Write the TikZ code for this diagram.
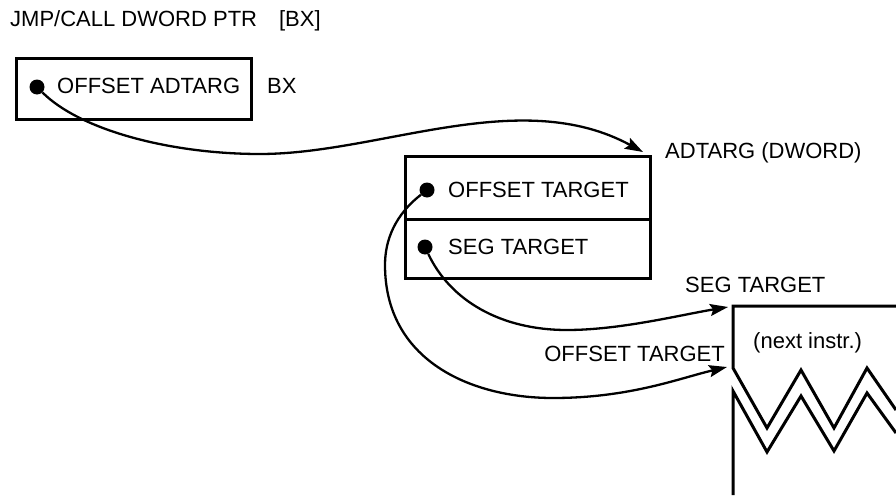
\documentclass[tikz,border=0pt]{standalone}
\usepackage{fontspec}
\setmainfont{Liberation Sans}
\usetikzlibrary{arrows.meta}

\tikzset{
  lbl/.style={anchor=west, inner sep=0pt, font=\fontsize{22}{26}\selectfont},
  cell/.style={draw, line width=3pt, anchor=north west, inner sep=0pt},
  ptr/.style={circle, fill, inner sep=0pt, minimum size=15pt},
  link/.style={line width=2.3pt, -{Stealth[length=18pt,width=12pt,inset=3pt]}},
  wall/.style={line width=3pt, line join=miter},
}

\begin{document}
\begin{tikzpicture}[x=1pt,y=-1pt]
  \useasboundingbox (0,0) rectangle (896,495);
  \node[lbl] (title) at (10,21) {JMP/CALL DWORD PTR\hspace{22pt}[BX]};

  % register BX holding the offset of ADTARG
  \node[cell, minimum width=235pt, minimum height=61pt] (bx) at (15,57) {};
  \node[ptr] (bxdot) at (37,87) {};
  \node[lbl] (bxtext) at (57,86) {OFFSET ADTARG};
  \node[lbl] (bxname) at (267,86) {BX};

  % the doubleword ADTARG
  \node[cell, minimum width=245pt, minimum height=63pt] (adoff) at (404,155) {};
  \node[cell, minimum width=245pt, minimum height=59pt] (adseg) at (404,218) {};
  \node[lbl] (adname) at (665,153) {ADTARG (DWORD)};
  \node[ptr] (offdot) at (427,190) {};
  \node[lbl] (offtext) at (448,190) {OFFSET TARGET};
  \node[ptr] (segdot) at (425,247) {};
  \node[lbl] (segtext) at (448,247) {SEG TARGET};

  % target code, broken off below
  \draw[wall] (896,306) -- (733,306) -- (733,368) -- (767,428) -- (801,370)
    -- (834,428) -- (867,368) -- (896,410);
  \draw[wall] (733,495) -- (733,391) -- (767,452) -- (801,396)
    -- (834,451) -- (867,393) -- (896,433);
  \node[lbl] (nextins) at (753,343) {(next instr.)};
  \node[lbl] (seglbl) at (685,285) {SEG TARGET};
  \node[lbl, anchor=east] (offlbl) at (725,354) {OFFSET TARGET};

  \coordinate (adtip) at (643,152);
  \coordinate (segtip) at (728,307);
  \coordinate (offtip) at (727,367);

  \draw[link] (bxdot) .. controls (80,130) and (170,154) .. (260,154)
    .. controls (380,154) and (520,85) .. (adtip);
  \draw[link] (segdot) .. controls (450,300) and (500,330) .. (567,330)
    .. controls (620,330) and (680,315) .. (segtip);
  \draw[link] (offdot) .. controls (395,215) and (385,240) .. (385,265)
    .. controls (385,360) and (470,398) .. (553,398)
    .. controls (630,398) and (680,378) .. (offtip);
\end{tikzpicture}
\end{document}
